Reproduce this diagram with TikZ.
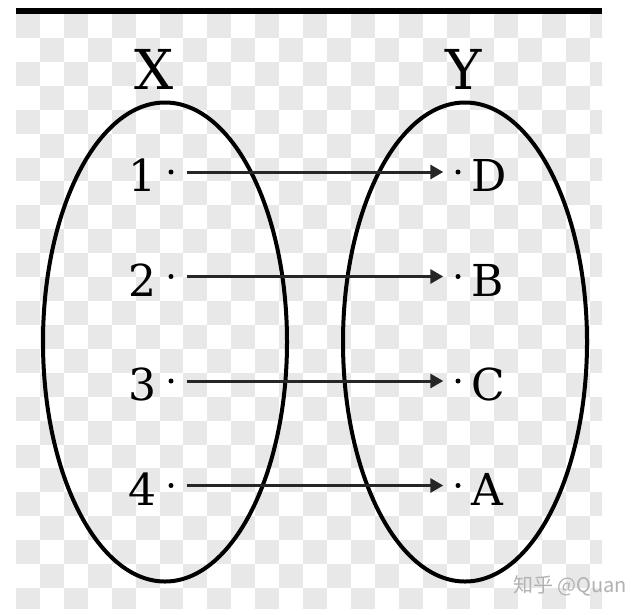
\documentclass[tikz,border=0pt]{standalone}
\usepackage{fontspec}
\setmainfont{DejaVu Serif}
\newfontfamily\cjkfont{Noto Sans CJK SC}
\usetikzlibrary{positioning,shapes.geometric,arrows.meta}
\definecolor{checkgray}{HTML}{E8E8E8}

\begin{document}
\begin{tikzpicture}
 [x=1pt, y=-1pt,
  set node/.style={ellipse, draw, line width=4pt, minimum width=244pt, minimum height=479pt, inner sep=0pt},
  name node/.style={inner sep=0pt, font=\fontsize{55}{55}\selectfont},
  elem node/.style={inner sep=0pt, font=\fontsize{44}{44}\selectfont},
  point node/.style={circle, fill, inner sep=0pt, minimum size=5pt},
  map edge/.style={-{Triangle[length=13pt,width=14pt]}, line width=3pt, black!85, shorten <=13pt, shorten >=12pt}]

 \useasboundingbox (0,0) rectangle (644,614);
 \fill[white] (0,0) rectangle (644,614);

 % checker background
 \begin{scope}
  \clip (16,14) rectangle (602,608);
  \foreach \i in {0,...,24}
   \foreach \j in {0,...,24}
   {\pgfmathparse{int(mod(\i+\j,2))}
    \ifnum\pgfmathresult=0 \fill[checkgray] (16+23.92*\i,14+23.92*\j) rectangle ++(23.92,23.92);\fi}
 \end{scope}
 \fill (16,8) rectangle (602,14);

 \node[set node] (X) at (165,342) {};
 \node[set node] (Y) at (465,342) {};
 \node[name node, above=11pt of X, xshift=-11pt] (xname) {X};
 \node[name node, above=11pt of Y, xshift=-1pt] (yname) {Y};

 \node[point node] (a1) at (171,172) {};
 \node[point node] (a2) at (171,276.5) {};
 \node[point node] (a3) at (171,381) {};
 \node[point node] (a4) at (171,485.5) {};
 \node[point node] (b1) at (458,172) {};
 \node[point node] (b2) at (458,276.5) {};
 \node[point node] (b3) at (458,381) {};
 \node[point node] (b4) at (458,485.5) {};

 \node[elem node, left=12pt of a1, yshift=-3.5pt] (n1) {1};
 \node[elem node, left=12pt of a2, yshift=-3.5pt] (n2) {2};
 \node[elem node, left=12pt of a3, yshift=-3.5pt] (n3) {3};
 \node[elem node, left=12pt of a4, yshift=-3.5pt] (n4) {4};
 \node[elem node, right=11pt of b1, yshift=-3.5pt] (m1) {D};
 \node[elem node, right=11pt of b2, yshift=-3.5pt] (m2) {B};
 \node[elem node, right=11pt of b3, yshift=-3.5pt] (m3) {C};
 \node[elem node, right=11pt of b4, yshift=-3.5pt] (m4) {A};

 \path
  (a1) edge [map edge] (b1)
  (a2) edge [map edge] (b2)
  (a3) edge [map edge] (b3)
  (a4) edge [map edge] (b4);

 \node[font=\cjkfont\fontsize{20}{20}\selectfont, text=black!30, inner sep=0pt] (wm) at (570,586) {知乎 @Quan};
\end{tikzpicture}
\end{document}
